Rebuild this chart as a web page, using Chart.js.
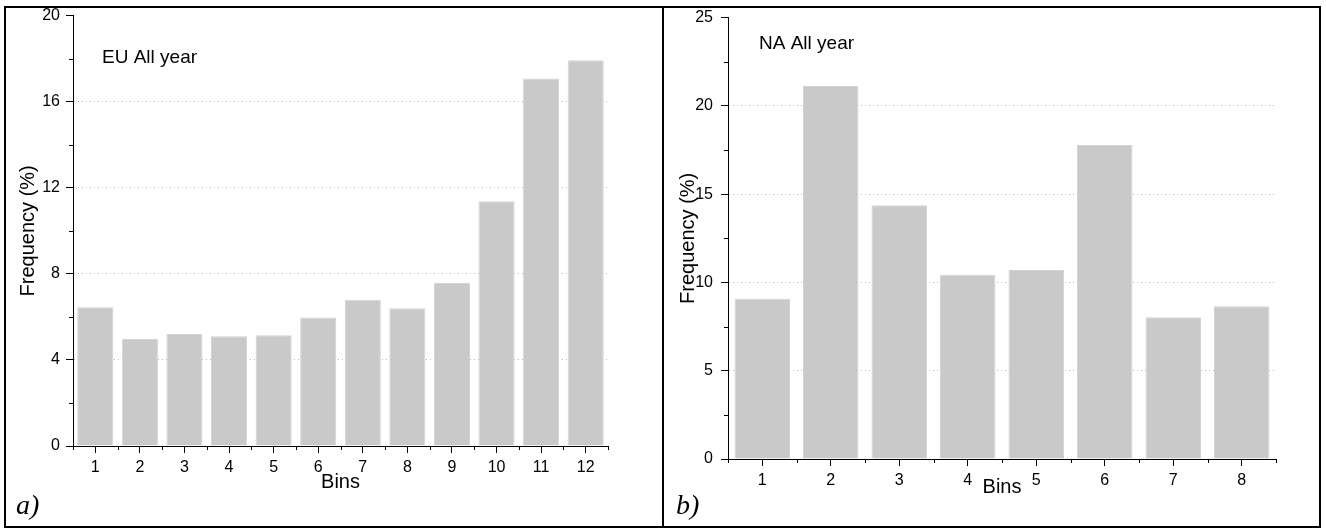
<!DOCTYPE html>
<html>
<head>
<meta charset="utf-8">
<script src="https://cdn.jsdelivr.net/npm/chart.js@4/dist/chart.umd.min.js"></script>
<style>
  body { margin: 0; background: #fff; width: 1326px; height: 529px; position: relative; overflow: hidden; }
  canvas { position: absolute; top: 0; }
  #euChart { left: 0; }
  #naChart { left: 664px; }
  .frame { position: absolute; border: 2px solid #000; pointer-events: none; box-sizing: border-box; }
</style>
</head>
<body>
<canvas id="euChart" width="662" height="529"></canvas>
<canvas id="naChart" width="662" height="529"></canvas>
<div class="frame" style="left:4px; top:6px; width:1317px; height:522px;"></div>
<div class="frame" style="left:662px; top:6px; width:2px; height:522px; border-width:0 0 0 2px;"></div>
<script>
// Data
const euBins = ['1', '2', '3', '4', '5', '6', '7', '8', '9', '10', '11', '12'];
const euFreq = [6.45, 4.97, 5.2, 5.1, 5.15, 5.97, 6.8, 6.4, 7.58, 11.37, 17.08, 17.92];
const euYTicks = [0, 4, 8, 12, 16, 20];
const euYMinor = [2, 6, 10, 14, 18];

const naBins = ['1', '2', '3', '4', '5', '6', '7', '8'];
const naFreq = [9.08, 21.12, 14.37, 10.44, 10.7, 17.78, 8.03, 8.65];
const naYTicks = [0, 5, 10, 15, 20, 25];
const naYMinor = [2.5, 7.5, 12.5, 17.5, 22.5];

const FONT = "'Liberation Sans', Arial, sans-serif";

// Small ticks between the labelled ones (Origin style)
const minorTicks = {
    id: 'minorTicks',
    afterDraw(chart, args, opts) {
        const { ctx, scales: { x, y } } = chart;
        ctx.save();
        ctx.strokeStyle = '#000';
        ctx.lineWidth = 1;
        ctx.beginPath();
        opts.yMinor.forEach(v => {
            const py = Math.round(y.getPixelForValue(v)) + 0.5;
            ctx.moveTo(y.right - 4, py);
            ctx.lineTo(y.right, py);
        });
        for (let i = 0; i <= chart.data.labels.length; i++) {
            const px = Math.round(x.getPixelForValue(i - 0.5)) + 0.5;
            ctx.moveTo(px, x.top);
            ctx.lineTo(px, x.top + 4);
        }
        ctx.stroke();
        ctx.restore();
    }
};

// Panel caption inside the plot and the a) / b) letter
const panelText = {
    id: 'panelText',
    afterDraw(chart, args, opts) {
        const { ctx, chartArea, scales: { y } } = chart;
        ctx.save();
        ctx.fillStyle = '#000';
        ctx.textBaseline = 'alphabetic';
        ctx.textAlign = 'left';
        ctx.font = `19px ${FONT}`;
        ctx.fillText(opts.caption, chartArea.left + opts.dx, y.getPixelForValue(opts.yValue));
        ctx.font = "italic 28px 'Liberation Serif', 'Times New Roman', serif";
        ctx.fillText(opts.letter, opts.letterX, opts.letterY);
        ctx.restore();
    }
};

function makeChart(id, labels, values, yTicks, yMinor, box, text) {
    const yMin = yTicks[0];
    const yMax = yTicks[yTicks.length - 1];
    return new Chart(document.getElementById(id), {
        type: 'bar',
        data: {
            labels: labels,
            datasets: [{
                data: values,
                backgroundColor: '#c9c9c9',
                borderColor: '#d3d3d3',
                borderWidth: 1,
                barPercentage: 0.81,
                categoryPercentage: 1
            }]
        },
        options: {
            responsive: false,
            animation: false,
            devicePixelRatio: 1,
            layout: { padding: box.padding },
            plugins: {
                legend: { display: false },
                tooltip: { enabled: false },
                minorTicks: { yMinor: yMinor },
                panelText: text
            },
            scales: {
                x: {
                    offset: true,
                    grid: {
                        offset: false,
                        drawOnChartArea: false,
                        tickLength: 7,
                        color: '#000',
                        tickColor: '#000'
                    },
                    border: { color: '#000', width: 1 },
                    ticks: {
                        color: '#000',
                        font: { family: FONT, size: 16 },
                        padding: box.xPad,
                        maxRotation: 0,
                        autoSkip: false
                    },
                    title: {
                        display: true,
                        text: 'Bins',
                        color: '#000',
                        font: { family: FONT, size: 20 },
                        padding: 0
                    },
                    afterFit: s => { s.height = box.xHeight; }
                },
                y: {
                    min: yMin,
                    max: yMax,
                    afterBuildTicks: s => { s.ticks = yTicks.map(v => ({ value: v })); },
                    grid: {
                        color: c => (c.tick && c.tick.value > yMin && c.tick.value < yMax) ? '#b8b8b8' : 'rgba(0,0,0,0)',
                        tickColor: '#000',
                        tickLength: 7,
                        lineWidth: 1
                    },
                    border: { color: '#000', width: 1, dash: [1, 3] },
                    ticks: {
                        color: '#000',
                        font: { family: FONT, size: 16 },
                        padding: box.yPad
                    },
                    title: {
                        display: true,
                        text: 'Frequency (%)',
                        color: '#000',
                        font: { family: FONT, size: 20 },
                        padding: 0
                    },
                    afterFit: s => { s.width = box.yWidth; }
                }
            }
        },
        plugins: [minorTicks, panelText]
    });
}

makeChart('euChart', euBins, euFreq, euYTicks, euYMinor,
    { padding: { left: 16, right: 54, top: 15, bottom: 35 }, yWidth: 57, xHeight: 48, yPad: 6, xPad: 5 },
    { caption: 'EU All year', dx: 29, yValue: 17.8, letter: 'a)', letterX: 16, letterY: 514 });

makeChart('naChart', naBins, naFreq, naYTicks, naYMinor,
    { padding: { left: 12, right: 50, top: 16, bottom: 30 }, yWidth: 52, xHeight: 40, yPad: 8, xPad: 5 },
    { caption: 'NA All year', dx: 31, yValue: 23.2, letter: 'b)', letterX: 12, letterY: 514 });
</script>
</body>
</html>
